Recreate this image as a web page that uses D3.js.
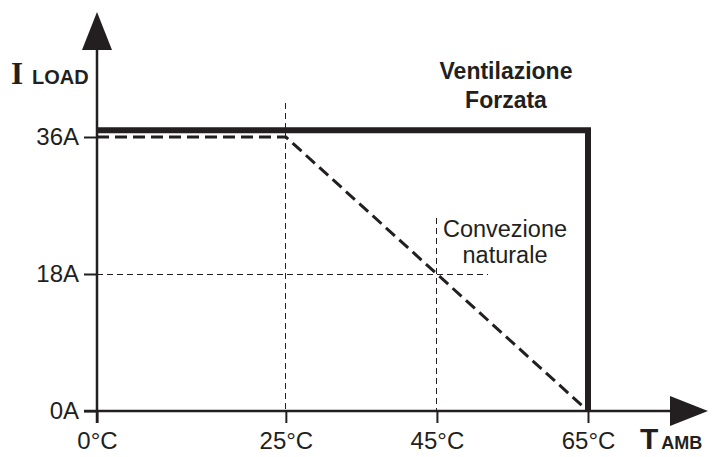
<!DOCTYPE html>
<html>
<head>
<meta charset="utf-8">
<script src="https://cdn.jsdelivr.net/npm/d3@7"></script>
<style>
  body { margin: 0; background: #fff; }
  text { font-family: "Liberation Sans", Arial, sans-serif; fill: #231f20; }
</style>
</head>
<body>
<div id="container"></div>
<script>
/**
 * CONSTANTS AND GLOBALS
 * */
const w = 712
const h = 457
const ink = "#231f20"

// data
const temps = [0, 25, 45, 65]
const tempLabels = ["0°C", "25°C", "45°C", "65°C"]
const currents = [0, 18, 36]
const currentLabels = ["0A", "18A", "36A"]
// forced ventilation: flat just above 36A up to 65°C, then drops to 0
const forcedT = [0, 65, 65]
const forcedI = [36.9, 36.9, 0]
// natural convection: 36A to 25°C, then linear derating to 0 at 65°C
const naturalT = [0, 25, 65]
const naturalI = [36, 36, 0]

// scales
const x = d3.scaleLinear().domain([0, 65]).range([97, 588])
const y = d3.scaleLinear().domain([0, 36]).range([411, 137])

const svg = d3.select("#container")
    .append("svg")
    .attr("width", w)
    .attr("height", h)

// thin dashed guides
const guides = svg.append("g")
    .attr("stroke", ink)
    .attr("stroke-width", 1)
    .attr("stroke-dasharray", "6,4")
    .attr("fill", "none")
    .attr("shape-rendering", "crispEdges")

guides.append("line")
    .attr("x1", x(25)).attr("x2", x(25))
    .attr("y1", 103).attr("y2", y(0))
guides.append("line")
    .attr("x1", x(45)).attr("x2", x(45))
    .attr("y1", 218).attr("y2", y(0))
guides.append("line")
    .attr("x1", x(0)).attr("x2", 488)
    .attr("y1", y(18)).attr("y2", y(18))

// curves
const line = d3.line().x(d => x(d[0])).y(d => y(d[1]))

svg.append("path")
    .datum(d3.zip(naturalT, naturalI))
    .attr("d", line)
    .attr("fill", "none")
    .attr("stroke", ink)
    .attr("stroke-width", 3)
    .attr("stroke-dasharray", "12,6")

svg.append("path")
    .datum(d3.zip(forcedT, forcedI))
    .attr("d", line)
    .attr("fill", "none")
    .attr("stroke", ink)
    .attr("stroke-width", 6)
    .attr("stroke-linejoin", "miter")
    .attr("stroke-linecap", "butt")

// axes
const xAxis = svg.append("g")
    .attr("transform", `translate(0,${y(0)})`)
    .call(d3.axisBottom(x).tickValues(temps).tickFormat((d, i) => tempLabels[i]).tickSize(12).tickPadding(9))
xAxis.select(".domain").remove()
xAxis.selectAll(".tick line").attr("stroke", ink).attr("stroke-width", 2)
xAxis.selectAll(".tick text")
    .attr("font-size", 24)
    .attr("font-family", null)
    .attr("fill", ink)

const yAxis = svg.append("g")
    .attr("transform", `translate(${x(0)},0)`)
    .call(d3.axisLeft(y).tickValues(currents).tickFormat((d, i) => currentLabels[i]).tickSize(13).tickPadding(5))
yAxis.select(".domain").remove()
yAxis.selectAll(".tick line").attr("stroke", ink).attr("stroke-width", 2)
yAxis.selectAll(".tick text")
    .attr("font-size", 24)
    .attr("font-family", null)
    .attr("fill", ink)

// axis lines with arrows
svg.append("line")
    .attr("x1", x(0)).attr("x2", x(0))
    .attr("y1", 48).attr("y2", y(0) + 12)
    .attr("stroke", ink).attr("stroke-width", 2.5)
svg.append("path")
    .attr("d", `M${x(0)},12 L${x(0) + 15},50 L${x(0) - 15},50 Z`)
    .attr("fill", ink)

svg.append("line")
    .attr("x1", x(0) - 13).attr("x2", 672)
    .attr("y1", y(0)).attr("y2", y(0))
    .attr("stroke", ink).attr("stroke-width", 2.5)
svg.append("path")
    .attr("d", `M708,${y(0)} L670,${y(0) - 15} L670,${y(0) + 15} Z`)
    .attr("fill", ink)

// axis titles
const yTitle = svg.append("text").attr("x", 11).attr("y", 84)
yTitle.append("tspan")
    .attr("font-family", "'Liberation Serif', 'DejaVu Serif', serif")
    .attr("font-weight", "bold")
    .attr("font-size", 31)
    .text("I")
yTitle.append("tspan")
    .attr("dx", 9)
    .attr("font-weight", "bold")
    .attr("font-size", 20)
    .text("LOAD")

const xTitle = svg.append("text").attr("x", 640).attr("y", 449)
xTitle.append("tspan")
    .attr("font-weight", "bold")
    .attr("font-size", 30)
    .text("T")
xTitle.append("tspan")
    .attr("dx", 3)
    .attr("font-weight", "bold")
    .attr("font-size", 18)
    .text("AMB")

// annotations
svg.append("text")
    .attr("x", 506).attr("y", 79)
    .attr("text-anchor", "middle")
    .attr("font-weight", "bold")
    .attr("font-size", 23)
    .selectAll("tspan")
    .data(["Ventilazione", "Forzata"])
    .join("tspan")
    .attr("x", 506)
    .attr("dy", (d, i) => i ? 29 : 0)
    .text(d => d)

svg.append("text")
    .attr("x", 505).attr("y", 237)
    .attr("text-anchor", "middle")
    .attr("font-size", 23.5)
    .selectAll("tspan")
    .data(["Convezione", "naturale"])
    .join("tspan")
    .attr("x", 505)
    .attr("dy", (d, i) => i ? 26 : 0)
    .text(d => d)
</script>
</body>
</html>
